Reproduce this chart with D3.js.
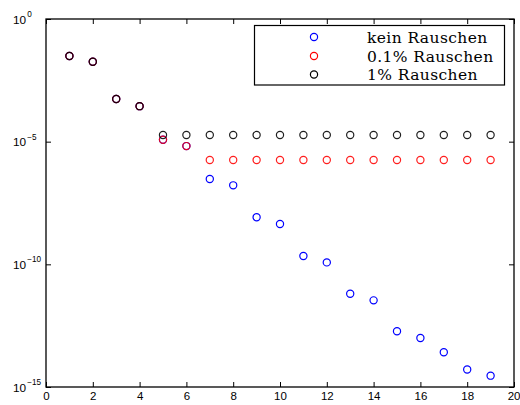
<!DOCTYPE html>
<html>
<head>
<meta charset="utf-8">
<script src="https://cdn.jsdelivr.net/npm/d3@7/dist/d3.min.js"></script>
<style>
  html, body { margin: 0; padding: 0; background: #fff; }
  svg { display: block; }
</style>
</head>
<body>
<svg id="chart" width="520" height="405"></svg>
<script>
// Iteration index
const steps = [1, 2, 3, 4, 5, 6, 7, 8, 9, 10, 11, 12, 13, 14, 15, 16, 17, 18, 19];

// Error per step, one array per noise level
const noNoise = [3.1e-2, 1.8e-2, 5.5e-4, 2.8e-4, 1.2e-5, 6.6e-6, 3.0e-7, 1.66e-7,
                 8.3e-9, 4.4e-9, 2.2e-10, 1.2e-10, 6.3e-12, 3.4e-12, 1.86e-13,
                 1.0e-13, 2.6e-14, 5.2e-15, 2.9e-15];
const noise01 = [3.1e-2, 1.8e-2, 5.5e-4, 2.8e-4, 1.2e-5, 6.6e-6, 1.8e-6, 1.8e-6,
                 1.8e-6, 1.8e-6, 1.8e-6, 1.8e-6, 1.8e-6, 1.8e-6, 1.8e-6,
                 1.8e-6, 1.8e-6, 1.8e-6, 1.8e-6];
const noise1  = [3.1e-2, 1.8e-2, 5.5e-4, 2.8e-4, 1.86e-5, 1.86e-5, 1.86e-5, 1.86e-5,
                 1.86e-5, 1.86e-5, 1.86e-5, 1.86e-5, 1.86e-5, 1.86e-5, 1.86e-5,
                 1.86e-5, 1.86e-5, 1.86e-5, 1.86e-5];

const seriesNames = ["kein Rauschen", "0.1% Rauschen", "1% Rauschen"];
const seriesColors = ["#0000ff", "#ff0000", "#000000"];
const seriesValues = [noNoise, noise01, noise1];

const xTicks = [0, 2, 4, 6, 8, 10, 12, 14, 16, 18, 20];
const yTickExponents = [0, -5, -10, -15];
const yTickLabels = ["0", "\u22125", "\u221210", "\u221215"];

const svg = d3.select("#chart");
const plotLeft = 46, plotRight = 514, plotTop = 19, plotBottom = 387;

const x = d3.scaleLinear().domain([0, 20]).range([plotLeft, plotRight]);
const y = d3.scaleLog().domain([1e-15, 1]).range([plotBottom, plotTop]);
const yTickValues = yTickExponents.map(e => Math.pow(10, e));

// Inward ticks on all four sides
const tickLen = 5;
const axisStyle = g => {
  g.select(".domain").remove();
  g.selectAll(".tick line").attr("stroke", "#000").attr("stroke-width", 1);
};

svg.append("g")
  .attr("transform", `translate(0,${plotBottom})`)
  .call(d3.axisBottom(x).tickValues(xTicks).tickSizeInner(-tickLen).tickSizeOuter(0).tickPadding(5))
  .call(axisStyle)
  .call(g => g.selectAll(".tick text")
    .attr("font-family", "'Liberation Sans', Arial, sans-serif")
    .attr("font-size", 11.5).attr("fill", "#000"))
  .call(g => g.selectAll(".tick:last-of-type text").attr("text-anchor", "end").attr("dx", 6));

svg.append("g")
  .attr("transform", `translate(0,${plotTop})`)
  .call(d3.axisTop(x).tickValues(xTicks).tickSizeInner(-tickLen).tickSizeOuter(0).tickFormat(""))
  .call(axisStyle);

svg.append("g")
  .attr("transform", `translate(${plotLeft},0)`)
  .call(d3.axisLeft(y).tickValues(yTickValues).tickSizeInner(-tickLen).tickSizeOuter(0).tickFormat(""))
  .call(axisStyle);

svg.append("g")
  .attr("transform", `translate(${plotRight},0)`)
  .call(d3.axisRight(y).tickValues(yTickValues).tickSizeInner(-tickLen).tickSizeOuter(0).tickFormat(""))
  .call(axisStyle);

// Power-of-ten labels with superscript exponent
const yLab = svg.append("g")
  .attr("font-family", "'Liberation Sans', Arial, sans-serif")
  .attr("fill", "#000");
yTickValues.forEach((v, i) => {
  const t = yLab.append("text")
    .attr("x", 13)
    .attr("y", y(v) + 4.5)
    .attr("font-size", 11.8);
  t.append("tspan").text("10");
  t.append("tspan")
    .attr("dx", 1)
    .attr("dy", -6.5)
    .attr("font-size", 8.2)
    .text(yTickLabels[i]);
});

// Plot frame
svg.append("rect")
  .attr("x", plotLeft).attr("y", plotTop)
  .attr("width", plotRight - plotLeft).attr("height", plotBottom - plotTop)
  .attr("fill", "none").attr("stroke", "#000").attr("stroke-width", 1.3);

// Markers: open circles, drawn blue, red, then black on top
const opacities = [1, 0.88, 0.88];
seriesValues.forEach((vals, s) => {
  svg.append("g")
    .selectAll("circle")
    .data(vals)
    .join("circle")
    .attr("cx", (d, i) => x(steps[i]))
    .attr("cy", d => y(d))
    .attr("r", 3.6)
    .attr("fill", "none")
    .attr("stroke", seriesColors[s])
    .attr("stroke-opacity", opacities[s])
    .attr("stroke-width", 1.2);
});

// Legend
const legend = svg.append("g");
legend.append("rect")
  .attr("x", 254.5).attr("y", 25.5)
  .attr("width", 250).attr("height", 59.5)
  .attr("fill", "#fff").attr("stroke", "#000").attr("stroke-width", 1.2);
const rowY = [37, 56, 74.5];
seriesNames.forEach((name, i) => {
  legend.append("circle")
    .attr("cx", 314).attr("cy", rowY[i]).attr("r", 3.6)
    .attr("fill", "none").attr("stroke", seriesColors[i]).attr("stroke-width", 1.2);
  legend.append("text")
    .attr("x", 367).attr("y", rowY[i] + 5.5)
    .attr("font-family", "'DejaVu Serif', serif")
    .attr("font-size", 15.5)
    .attr("letter-spacing", 0.4)
    .attr("fill", "#000")
    .text(name);
});
</script>
</body>
</html>
